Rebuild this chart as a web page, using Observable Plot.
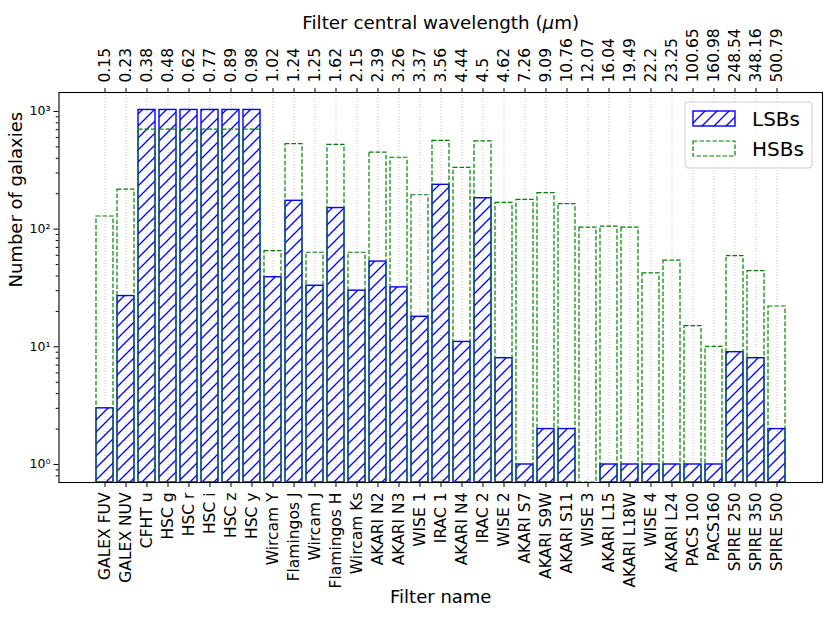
<!DOCTYPE html>
<html><head><meta charset="utf-8">
<script src="https://cdn.jsdelivr.net/npm/d3@7"></script>
<script src="https://cdn.jsdelivr.net/npm/@observablehq/plot@0.6"></script>
<style>body{margin:0;background:#fff}</style>
</head><body><div id="chart"></div>
<script>
const filters = ["GALEX FUV","GALEX NUV","CFHT u","HSC g","HSC r","HSC i","HSC z","HSC y","Wircam Y","Flamingos J","Wircam J","Flamingos H","Wircam Ks","AKARI N2","AKARI N3","WISE 1","IRAC 1","AKARI N4","IRAC 2","WISE 2","AKARI S7","AKARI S9W","AKARI S11","WISE 3","AKARI L15","AKARI L18W","WISE 4","AKARI L24","PACS 100","PACS160","SPIRE 250","SPIRE 350","SPIRE 500"];
const wavelengths = ["0.15","0.23","0.38","0.48","0.62","0.77","0.89","0.98","1.02","1.24","1.25","1.62","2.15","2.39","3.26","3.37","3.56","4.44","4.5","4.62","7.26","9.09","10.76","12.07","16.04","19.49","22.2","23.25","100.65","160.98","248.54","348.16","500.79"];
const lsbCounts = [3,27,1030,1030,1030,1030,1030,1030,39,174,33,151,30,53,32,18,238,11,183,8,1,2,2,0,1,1,1,1,1,1,9,8,2];
const hsbCounts = [128,217,700,700,700,700,700,700,65,527,63,520,63,446,404,194,562,332,556,167,177,202,163,103,105,103,42,54,15,10,59,44,22];
const yTicks = [1,10,100,1000];
const yTickLabels = ["10⁰","10¹","10²","10³"];
const yMinor = [0.8,0.9,2,3,4,5,6,7,8,9,20,30,40,50,60,70,80,90,200,300,400,500,600,700,800,900];
const yDomain = [0.703, 1449];
const seriesNames = ["LSBs","HSBs"];

const rows = filters.map((f,i)=>({filter:f, lsb:lsbCounts[i], hsb:hsbCounts[i]}));
const waveOf = new Map(filters.map((f,i)=>[f,wavelengths[i]]));
const labelOf = new Map(yTicks.map((t,i)=>[t,yTickLabels[i]]));
const FONT = "DejaVu Sans, sans-serif";

const plot = Plot.plot({
  width: 831, height: 620,
  marginLeft: 58.5, marginRight: 9, marginTop: 92, marginBottom: 138,
  style: {fontFamily: FONT, background: "white", overflow: "visible", color: "black"},
  x: {type: "band", domain: filters, paddingInner: 0.2, paddingOuter: 1.64, axis: null},
  y: {type: "log", domain: yDomain, axis: null},
  marks: [
    Plot.gridX(filters, {stroke: "#b0b0b0", strokeOpacity: 1, strokeWidth: 0.8, strokeDasharray: "1,2"}),
    Plot.barY(rows.filter(d => d.lsb > 0), {x: "filter", y1: yDomain[0], y2: "lsb", fill: "url(#hatch)", stroke: "blue", strokeWidth: 1.4}),
    Plot.barY(rows, {x: "filter", y1: yDomain[0], y2: "hsb", fill: "none", stroke: "green", strokeWidth: 1.2, strokeDasharray: "4.5,2"}),
    Plot.frame({stroke: "black", strokeWidth: 1.1}),
    Plot.axisX({anchor: "bottom", tickSize: 5, tickPadding: 5, tickRotate: -90, fontSize: 15.5, label: null}),
    Plot.axisX({anchor: "top", tickSize: 5, tickPadding: 5, tickRotate: -90, fontSize: 15.5, tickFormat: f => waveOf.get(f), label: null}),
    Plot.axisY({ticks: yTicks, tickSize: 5, tickPadding: 3.5, fontSize: 12.5, tickFormat: t => labelOf.get(t), label: null}),
    Plot.axisY({ticks: yMinor, tickSize: 2.8, tickFormat: () => "", label: null}),
    Plot.text(["Filter name"], {text: d => d, frameAnchor: "bottom", dy: 120.4, fontSize: 18}),
    Plot.text(["Filter central wavelength (μm)"], {text: d => d, frameAnchor: "top", dy: -76.6, fontSize: 18.3}),
    Plot.text(["Number of galaxies"], {text: d => d, frameAnchor: "left", dx: -43, rotate: -90, fontSize: 18})
  ]
});
document.getElementById("chart").appendChild(plot);

const svg = d3.select(plot);
svg.insert("defs", ":first-child").html(
  '<pattern id="hatch" patternUnits="userSpaceOnUse" width="12" height="12">' +
  '<path d="M0,12 L12,0 M-3,3 L3,-3 M9,15 L15,9" stroke="blue" stroke-width="1.3"/></pattern>');

// italic mu in title
svg.selectAll("text").filter(function(){ return this.textContent === "Filter central wavelength (μm)"; })
  .each(function(){
    const t = d3.select(this);
    const target = t.select("tspan").empty() ? t : t.select("tspan");
    target.text(null);
    target.append("tspan").text("Filter central wavelength (");
    target.append("tspan").attr("font-style","italic").text("μ");
    target.append("tspan").text("m)");
  });

// legend
const lg = svg.append("g").attr("font-family", FONT).attr("text-anchor", "start");
lg.append("rect").attr("x",685).attr("y",102).attr("width",127).attr("height",66).attr("rx",3)
  .attr("fill","white").attr("fill-opacity",0.8).attr("stroke","#cccccc");
lg.append("rect").attr("x",693).attr("y",111).attr("width",42).attr("height",15)
  .attr("fill","url(#hatch)").attr("stroke","blue").attr("stroke-width",1.4);
lg.append("rect").attr("x",693).attr("y",141).attr("width",42).attr("height",15)
  .attr("fill","none").attr("stroke","green").attr("stroke-width",1.2).attr("stroke-dasharray","4.5,2");
lg.append("text").attr("x",752).attr("y",126).attr("font-size",20).attr("text-anchor","start").text(seriesNames[0]);
lg.append("text").attr("x",752).attr("y",156).attr("font-size",20).attr("text-anchor","start").text(seriesNames[1]);
</script>
</body></html>
